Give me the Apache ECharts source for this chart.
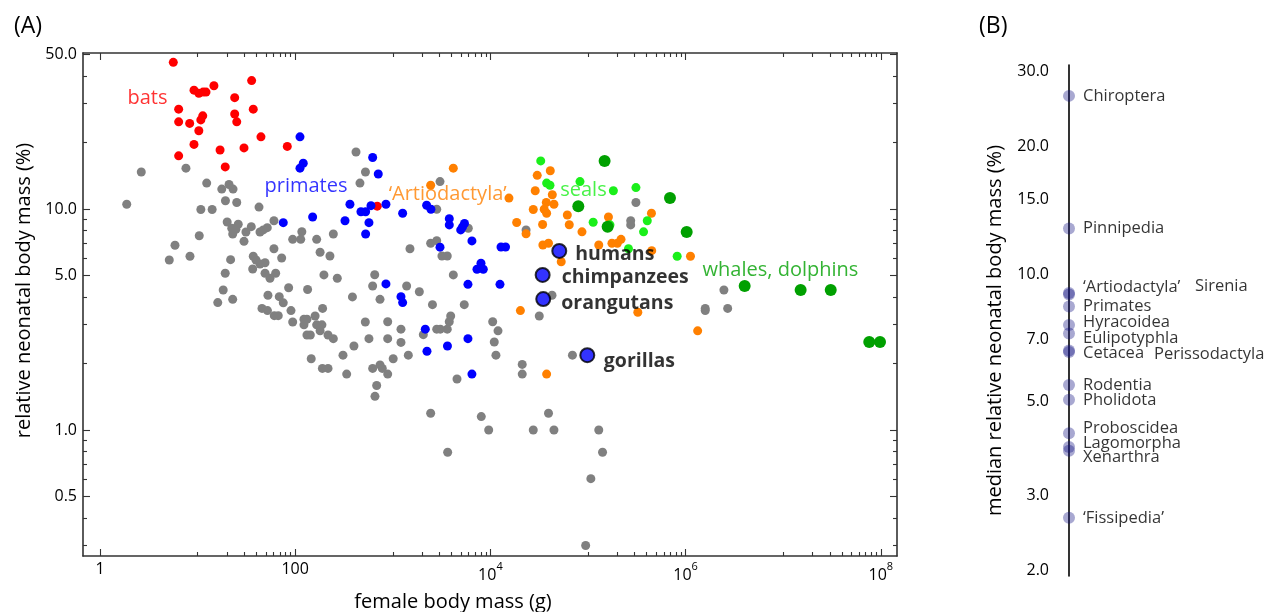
<!DOCTYPE html>
<html>
<head>
<meta charset="utf-8">
<script src="https://cdn.jsdelivr.net/npm/echarts@6/dist/echarts.min.js"></script>
<style>
html,body{margin:0;padding:0;background:#fff;}
#chart{width:1266px;height:612px;}
</style>
</head>
<body>
<div id="chart"></div>
<script>
// ---------- DATA ----------
// female body mass (g), relative neonatal body mass (%)
const otherMammals = [[1.88,10.5],[2.65,14.7],[7.6,15.3],[12.4,13.1],[17.7,12.3],[21.0,12.9],[23.1,12.3],[19.3,10.9],[25.2,10.7],[10.8,9.95],[14.1,9.95],[42.6,10.2],[420,18.1],[525,14.7],[461,13.1],[20.1,8.73],[26.1,8.53],[22.4,8.18],[24.7,8.09],[22.9,7.70],[35.5,8.32],[31.3,7.87],[43.6,7.87],[47.1,8.04],[51.8,8.23],[60.6,8.85],[10.4,7.57],[29.9,7.14],[94.3,7.29],[114,7.29],[117,7.89],[166,7.29],[246,7.71],[60.6,6.61],[8.36,6.11],[21.8,5.90],[37.2,6.11],[39.7,5.88],[72.7,6.0],[180,6.37],[227,6.13],[36.7,5.35],[43.6,5.64],[49.1,5.71],[19.2,5.12],[49.1,5.12],[55.2,4.86],[63.1,5.12],[197,5.03],[270,4.86],[18.3,4.30],[22.9,3.90],[16.1,3.77],[52.6,4.07],[68.7,4.01],[75.5,3.76],[85.7,4.40],[134,4.32],[386,4.0],[622,4.48],[653,5.04],[45.7,3.55],[52.0,3.47],[61.1,3.29],[67.1,3.29],[90.6,3.47],[123,3.17],[132,3.17],[160,3.28],[191,3.55],[94.3,3.08],[123,2.99],[166,2.99],[188,2.99],[180,2.81],[132,2.69],[143,2.69],[217,2.69],[246,2.59],[523,3.08],[570,2.59],[400,2.40],[309,2.18],[146,2.10],[190,1.90],[217,1.90],[337,1.79],[622,1.90],[740,1.97],[781,1.90],[684,1.59],[657,1.42],[887,1.79],[1010,2.10],[1443,2.18],[1213,2.49],[1213,2.86],[887,2.59],[887,3.09],[740,3.90],[1387,4.48],[1871,4.22],[5.87,6.85],[5.13,5.88],[3047,13.3],[2820,9.97],[5940,8.18],[23200,8.04],[1500,6.61],[2445,7.0],[2820,7.19],[3190,6.13],[3616,6.13],[4170,5.03],[2550,3.69],[5400,3.69],[3920,3.28],[3790,3.09],[2055,2.70],[2820,2.86],[3070,2.86],[3616,2.86],[10560,3.09],[11970,2.81],[10960,2.50],[11400,2.18],[4550,1.70],[2445,1.19],[8070,1.15],[9610,1.0],[3650,0.793],[21200,1.98],[21200,1.79],[31700,3.28],[69300,2.18],[39400,1.19],[27500,1.0],[44800,1.0],[129000,1.0],[141000,0.793],[107000,0.602],[94700,0.300],[42800,4.07],[2470000,4.30],[1590000,3.55],[1590000,3.47],[2700000,3.55],[310000,10.7],[274000,8.85],[274000,8.47]];
const bats = [[5.64,46.1],[35.8,38.1],[9.19,34.5],[10.3,33.4],[11.4,33.8],[12.2,33.8],[14.7,36.1],[24.0,31.9],[6.4,28.3],[37.2,28.3],[24.0,26.9],[25.2,24.8],[6.4,24.8],[8.3,24.4],[11.3,26.4],[10.8,25.3],[10.3,22.6],[44.6,21.2],[9.19,19.6],[17.0,18.5],[29.9,18.9],[83.0,19.2],[6.4,17.4],[19.2,15.5],[693,10.3]];
const primates = [[112,21.2],[121,16.1],[112,15.3],[622,17.1],[710,14.4],[75.5,8.67],[151,9.2],[364,10.5],[324,8.85],[472,9.72],[527,9.72],[598,10.35],[570,8.67],[527,7.71],[851,10.5],[1262,9.57],[851,4.58],[1213,4.01],[1262,3.77],[2223,10.4],[2460,9.97],[3793,9.04],[3793,8.47],[5430,8.6],[4966,8.04],[5180,8.29],[6470,7.17],[3047,6.72],[12850,6.73],[14300,6.73],[8010,5.68],[7290,5.34],[8460,5.34],[5890,4.56],[12540,4.56],[2153,2.86],[2240,2.27],[3633,2.40],[5890,2.59],[6470,1.79]];
const artiodactyla = [[4170,15.3],[2445,12.8],[15500,11.2],[30200,14.2],[41100,14.9],[28800,12.1],[43100,11.6],[37400,10.7],[44800,10.5],[27500,9.95],[35600,9.97],[37700,9.57],[18600,8.69],[23200,7.72],[34300,8.51],[61400,9.39],[64300,8.49],[86800,7.88],[162000,9.2],[447000,9.57],[34500,6.87],[39400,7.0],[53200,5.77],[129000,6.87],[176000,7.0],[200000,7.0],[218000,7.29],[450000,6.48],[1122000,6.11],[20300,3.47],[324000,3.41],[1330000,2.81],[37700,1.79]];
const seals = [[32800,16.5],[82800,13.3],[37700,13.1],[40800,12.8],[182000,12.1],[310000,12.5],[113000,8.71],[168000,8.48],[405000,8.85],[371000,7.88],[260000,6.61],[820000,6.11]];
const whales = [[148000,16.5],[79600,10.3],[159000,8.32],[692000,11.2],[1026000,7.87],[4030000,4.48],[15100000,4.30],[30700000,4.30],[76200000,2.50],[98200000,2.50]];
const apeNames = ['humans','chimpanzees','orangutans','gorillas'];
const apeMass = [50800, 34300, 34800, 98400];
const apePct = [6.46, 5.03, 3.91, 2.18];

// panel B: order medians
const orderNames = ['Chiroptera','Pinnipedia','\u2018Artiodactyla\u2019','Sirenia','Primates','Hyracoidea','Eulipotyphla','Cetacea','Perissodactyla','Rodentia','Pholidota','Proboscidea','Lagomorpha','Xenarthra','\u2018Fissipedia\u2019'];
const orderMedians = [26.3, 12.8, 9.02, 8.95, 8.38, 7.58, 7.24, 6.6, 6.55, 5.47, 5.05, 4.21, 3.91, 3.83, 2.66];

// tick values
const xMajorTicks = [1, 100, 1e4, 1e6, 1e8];
const xMinorTicks = [10,20,30,40,50,60,70,80,90,1000,2000,3000,4000,5000,6000,7000,8000,9000,1e5,2e5,3e5,4e5,5e5,6e5,7e5,8e5,9e5,1e7,2e7,3e7,4e7,5e7,6e7,7e7,8e7,9e7];
const yMajorTicks = [0.5, 1, 5, 10, 50];
const yMinorTicks = [0.3,0.4,0.6,0.7,0.8,0.9,2,3,4,6,7,8,9,20,30,40];
const bTicks = [2, 3, 5, 7, 10, 15, 20, 30];

// group annotations (anchor in data space)
const groupLabelText = ['bats','primates','\u2018Artiodactyla\u2019','seals','whales, dolphins'];
const groupLabelAnchor = [[3.07,31.8],[129,12.7],[3650,11.7],[89900,12.1],[9.38e6,5.30]];

// ---------- STYLE ----------
const FONT = "'Open Sans', 'Noto Sans', sans-serif";
const TXT = '#000';
const groupColors = {gray:'#808080', red:'#ff0000', blue:'#0000ff', orange:'#ff8000', lime:'#1aef1a', green:'#00a000'};
const groupLabelColors = ['#ff0000','#0000ff','#ff8000','#1aef1a','#00a000'];
const frameColor = '#333';
const bOffsets = {
  '\u2018Artiodactyla\u2019':[0,-6], 'Sirenia':[112,-8], 'Hyracoidea':[0,-3], 'Eulipotyphla':[0,5],
  'Cetacea':[0,3], 'Perissodactyla':[71,2], 'Proboscidea':[0,-5], 'Lagomorpha':[0,-4], 'Xenarthra':[0,7]
};
const apeLabelStyle = {
  humans:{distance:8, offset:[0,4]}, chimpanzees:{distance:11, offset:[0,2]},
  orangutans:{distance:10, offset:[0,4]}, gorillas:{distance:8.5, offset:[0,6]}
};

const chart = echarts.init(document.getElementById('chart'), null, {renderer:'canvas'});

const X_MIN = 0.67, X_MAX = 1.466e8, Y_MIN = 0.269, Y_MAX = 50.8;

function xAxisDef(pos, ticks, len, showLine, showLabel) {
  return {
    type:'log', gridIndex:0, position:pos, min:X_MIN, max:X_MAX,
    axisLine:{show:showLine, lineStyle:{color:frameColor, width:1.6}},
    axisTick:{show:true, inside:true, length:len, customValues:ticks, lineStyle:{color:frameColor, width:1.1}},
    axisLabel:{show:showLabel, customValues:ticks, margin:5, color:TXT, fontFamily:FONT,
      formatter: function(v){
        if (v < 1000) return '{n|' + Math.round(v) + '}';
        return '{b|10}{sup|' + Math.round(Math.log10(v)) + '}';
      },
      rich:{
        n:{fontSize:16, lineHeight:16, fontFamily:FONT, color:TXT},
        b:{fontSize:16, lineHeight:28, fontFamily:FONT, color:TXT},
        sup:{fontSize:11, lineHeight:16, verticalAlign:'top', fontFamily:FONT, color:TXT}
      }
    },
    splitLine:{show:false}
  };
}
function yAxisDef(pos, ticks, len, showLine, showLabel) {
  return {
    type:'log', gridIndex:0, position:pos, min:Y_MIN, max:Y_MAX,
    axisLine:{show:showLine, lineStyle:{color:frameColor, width:1.6}},
    axisTick:{show:true, inside:true, length:len, customValues:ticks, lineStyle:{color:frameColor, width:1.1}},
    axisLabel:{show:showLabel, customValues:ticks, margin:6, fontSize:16, color:TXT, fontFamily:FONT,
      formatter: v => v.toFixed(1)},
    splitLine:{show:false}
  };
}

const xAxes = [
  Object.assign(xAxisDef('bottom', xMajorTicks, 7, true, true), {
    name:'female body mass (g)', nameLocation:'middle', nameGap:36,
    nameTextStyle:{fontSize:20, color:TXT, fontFamily:FONT, padding:[0,74,0,0]}
  }),
  xAxisDef('bottom', xMinorTicks, 4, false, false),
  xAxisDef('top', xMajorTicks, 7, true, false),
  xAxisDef('top', xMinorTicks, 4, false, false),
  {type:'value', gridIndex:1, min:0, max:1, show:false}
];
const yAxes = [
  Object.assign(yAxisDef('left', yMajorTicks, 7, true, true), {
    name:'relative neonatal body mass (%)', nameLocation:'middle', nameGap:47,
    nameTextStyle:{fontSize:20, color:TXT, fontFamily:FONT, padding:[0,0,0,28]}
  }),
  yAxisDef('left', yMinorTicks, 4, false, false),
  yAxisDef('right', yMajorTicks, 7, true, false),
  yAxisDef('right', yMinorTicks, 4, false, false),
  {
    type:'log', gridIndex:1, position:'left', min:1.94, max:31.1,
    name:'median relative neonatal body mass (%)', nameLocation:'middle', nameGap:64,
    nameTextStyle:{fontSize:20, color:TXT, fontFamily:FONT, padding:[0,20,0,0]},
    axisLine:{show:true, lineStyle:{color:'#000', width:1.6}},
    axisTick:{show:false},
    axisLabel:{show:true, customValues:bTicks, margin:20, fontSize:16, color:TXT, fontFamily:FONT,
      formatter: v => v.toFixed(1)},
    splitLine:{show:false}
  }
];

function groupSeries(name, data, color, size) {
  return {
    name, type:'scatter', xAxisIndex:0, yAxisIndex:0, data,
    symbol:'circle', symbolSize:size, itemStyle:{color, opacity:1}, silent:true, z:2
  };
}

const series = [
  groupSeries('other', otherMammals, groupColors.gray, 9),
  groupSeries('bats', bats, groupColors.red, 9),
  groupSeries('primates', primates, groupColors.blue, 9),
  groupSeries('artiodactyla', artiodactyla, groupColors.orange, 9),
  groupSeries('seals', seals, groupColors.lime, 9),
  groupSeries('whales', whales, groupColors.green, 12),
  {
    name:'apes', type:'scatter', xAxisIndex:0, yAxisIndex:0, silent:true, z:5,
    symbolSize:14,
    itemStyle:{color:'#0000ff', borderColor:'#000', borderWidth:2},
    data: apeNames.map((n,i) => ({
      name:n, value:[apeMass[i], apePct[i]],
      label:{show:true, position:'right', distance:apeLabelStyle[n].distance, offset:apeLabelStyle[n].offset,
        formatter:n, fontSize:19.5, fontWeight:'bold', color:'#000', fontFamily:FONT}
    }))
  },
  {
    name:'groupLabels', type:'scatter', xAxisIndex:0, yAxisIndex:0, silent:true, z:6,
    symbolSize:0,
    data: groupLabelText.map((t,i) => ({
      name:t, value:groupLabelAnchor[i],
      label:{show:true, position:'inside', formatter:t, fontSize:20, color:groupLabelColors[i], fontFamily:FONT}
    }))
  },
  {
    name:'orders', type:'scatter', xAxisIndex:4, yAxisIndex:4, silent:true, z:3,
    symbolSize:12,
    itemStyle:{color:'rgba(20,20,130,0.46)'},
    data: orderNames.map((n,i) => ({
      name:n, value:[0, orderMedians[i]],
      label:{show:true, position:'right', distance:8, offset:bOffsets[n] || [0,0],
        formatter:n, fontSize:16.5, color:TXT, fontFamily:FONT}
    }))
  }
];

chart.setOption({
  animation:false,
  backgroundColor:'#fff',
  title:[
    {text:'(A)', left:9, top:10, textStyle:{fontSize:23, fontWeight:'normal', color:TXT, fontFamily:FONT}},
    {text:'(B)', left:974, top:10, textStyle:{fontSize:23, fontWeight:'normal', color:TXT, fontFamily:FONT}}
  ],
  grid:[
    {left:83, top:53, width:814, height:503, outerBoundsMode:'none', containLabel:false},
    {left:1069, top:65, width:100, height:511, outerBoundsMode:'none', containLabel:false}
  ],
  xAxis:xAxes,
  yAxis:yAxes,
  series
});
</script>
</body>
</html>
